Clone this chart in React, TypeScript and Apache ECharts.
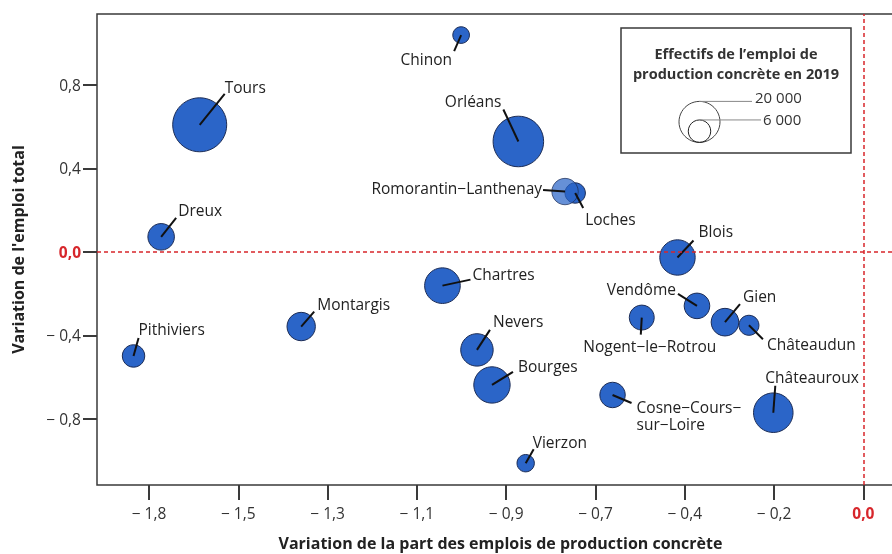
import React, { useEffect, useRef } from "react";
import * as echarts from "echarts";

// ---- data ----
const cities = [
  "Tours", "Dreux", "Chinon", "Orléans", "Loches", "Romorantin−Lanthenay",
  "Blois", "Vendôme", "Nogent−le−Rotrou", "Gien", "Châteaudun", "Cosne−Cours−\nsur−Loire",
  "Châteauroux", "Chartres", "Montargis", "Pithiviers", "Nevers", "Bourges", "Vierzon",
];
const shareChange = [
  -1.635, -1.730, -0.991, -0.850, -0.710, -0.735,
  -0.458, -0.410, -0.546, -0.341, -0.282, -0.618,
  -0.222, -1.037, -1.385, -1.798, -0.952, -0.915, -0.832,
];
const employmentChange = [
  0.609, 0.072, 1.039, 0.529, 0.282, 0.289,
  -0.027, -0.259, -0.315, -0.337, -0.352, -0.686,
  -0.771, -0.162, -0.358, -0.499, -0.470, -0.638, -1.013,
];
const productionJobs2019 = [
  34700, 8400, 3300, 30400, 4950, 8300,
  14900, 7800, 7400, 9100, 4800, 7700,
  18600, 15100, 9600, 6000, 12500, 15700, 3600,
];
const xTickValues = [-1.76, -1.54, -1.32, -1.1, -0.88, -0.66, -0.44, -0.22, 0];
const xTickLabels = ["− 1,8", "− 1,5", "− 1,3", "− 1,1", "− 0,9", "− 0,7", "− 0,4", "− 0,2", "0,0"];
const yTickValues = [-0.8, -0.4, 0, 0.4, 0.8];
const yTickLabels = ["− 0,8", "− 0,4", "0,0", "0,4", "0,8"];
const legendValues = [20000, 6000];
const legendLabels = ["20 000", "6 000"];

// ---- label layout (pixel offsets from bubble centre) ----
type L = { lx: number; ly: number; tx: number; ty: number; align: string };
const labelLayout: L[] = [
  { lx: 25, ly: -31, tx: 25, ty: -38, align: "left" }, // Tours
  { lx: 15, ly: -19, tx: 17, ty: -27, align: "left" }, // Dreux
  { lx: -7, ly: 16, tx: -9, ty: 24, align: "right" }, // Chinon
  { lx: -15, ly: -32, tx: -17, ty: -40, align: "right" }, // Orléans
  { lx: 8, ly: 15, tx: 10, ty: 26, align: "left" }, // Loches
  { lx: -22, ly: -1.5, tx: -23, ty: -4, align: "right" }, // Romorantin
  { lx: 16, ly: -17, tx: 21, ty: -26, align: "left" }, // Blois
  { lx: -19, ly: -12, tx: -21, ty: -17, align: "right" }, // Vendôme
  { lx: -1, ly: 17, tx: 8, ty: 28, align: "center" }, // Nogent
  { lx: 15, ly: -18, tx: 18, ty: -26, align: "left" }, // Gien
  { lx: 14, ly: 14, tx: 18, ty: 19, align: "left" }, // Châteaudun
  { lx: 19, ly: 8, tx: 24, ty: 21, align: "left" }, // Cosne
  { lx: 2, ly: -27, tx: -8, ty: -36, align: "left" }, // Châteauroux
  { lx: 28, ly: -6, tx: 30, ty: -12, align: "left" }, // Chartres
  { lx: 13, ly: -15, tx: 16, ty: -23, align: "left" }, // Montargis
  { lx: 5, ly: -18, tx: 5, ty: -27, align: "left" }, // Pithiviers
  { lx: 13, ly: -20, tx: 16, ty: -29, align: "left" }, // Nevers
  { lx: 21, ly: -13, tx: 26, ty: -19, align: "left" }, // Bourges
  { lx: 8, ly: -14, tx: 7, ty: -21, align: "left" }, // Vierzon
];
const bubbleOpacity = (name: string) => (name.startsWith("Romorantin") ? 0.72 : 1);

const FONT = "'Open Sans', 'Noto Sans', sans-serif";
const RED = "#d7262b";
const FILL = "#2b65c8";
const STROKE = "#1c2c55";
const K = 20.5 / Math.sqrt(20000);
const radius = (v: number) => K * Math.sqrt(v);

export default function App() {
  const ref = useRef<HTMLDivElement>(null);
  useEffect(() => {
    if (!ref.current) return;
    const chart = echarts.init(ref.current, undefined, { renderer: "svg" });
    const data = cities.map((c, i) => [shareChange[i], employmentChange[i], productionJobs2019[i], i]);
    const fmt = (vals: number[], labels: string[]) => (v: number) => {
      const i = vals.findIndex((t) => Math.abs(t - v) < 1e-6);
      if (i < 0) return "";
      const s = labels[i];
      return s === "0,0" ? "{red|0,0}" : s;
    };
    const bigR = radius(legendValues[0]);
    const smallR = radius(legendValues[1]);
    const cx = 699.5;
    const bottom = 142.4;
    chart.setOption({
      animation: false,
      textStyle: { fontFamily: FONT },
      grid: {
        left: 97, top: 14, width: 807, height: 471,
        outerBoundsMode: "none", containLabel: false,
        show: true, borderColor: "#3a3a3a", borderWidth: 1.5, backgroundColor: "transparent",
      },
      xAxis: {
        type: "value",
        min: -1.888,
        max: 0.1,
        name: "Variation de la part des emplois de production concrète",
        nameLocation: "middle",
        nameGap: 50,
        nameTextStyle: { fontSize: 16, fontWeight: "bold", color: "#222", fontFamily: FONT },
        axisLine: { show: false, onZero: false },
        splitLine: { show: false },
        axisTick: { show: true, length: 15, customValues: xTickValues, lineStyle: { color: "#3a3a3a", width: 2 } },
        axisLabel: {
          customValues: xTickValues,
          formatter: fmt(xTickValues, xTickLabels),
          margin: 20,
          fontSize: 15.5,
          color: "#333",
          fontFamily: FONT,
          rich: { red: { color: RED, fontWeight: "bold", fontSize: 15.5, fontFamily: FONT } },
        },
      },
      yAxis: {
        type: "value",
        min: -1.1175,
        max: 1.14,
        name: "Variation de l'emploi total",
        nameLocation: "middle",
        nameGap: 71,
        nameTextStyle: { fontSize: 16, fontWeight: "bold", color: "#222", fontFamily: FONT },
        axisLine: { show: false, onZero: false },
        splitLine: { show: false },
        axisTick: { show: true, length: 14, customValues: yTickValues, lineStyle: { color: "#3a3a3a", width: 2 } },
        axisLabel: {
          customValues: yTickValues,
          formatter: fmt(yTickValues, yTickLabels),
          margin: 16,
          fontSize: 15.5,
          color: "#333",
          fontFamily: FONT,
          rich: { red: { color: RED, fontWeight: "bold", fontSize: 15.5, fontFamily: FONT } },
        },
      },
      series: [
        {
          type: "scatter",
          data: [],
          z: 1,
          markLine: {
            silent: true,
            symbol: "none",
            label: { show: false },
            lineStyle: { color: RED, type: [4, 3], width: 1.5 },
            data: [{ xAxis: 0 }, { yAxis: 0 }],
          },
        },
        {
          type: "custom",
          z: 2,
          data,
          renderItem: (params: any, api: any) => {
            const i = api.value(3);
            const c = api.coord([api.value(0), api.value(1)]);
            return {
              type: "circle",
              shape: { cx: c[0], cy: c[1], r: radius(api.value(2)) },
              style: { fill: FILL, stroke: STROKE, lineWidth: 1, opacity: bubbleOpacity(cities[i]) },
            };
          },
        },
        {
          type: "custom",
          z: 3,
          data,
          renderItem: (params: any, api: any) => {
            const i = api.value(3);
            const c = api.coord([api.value(0), api.value(1)]);
            const L = labelLayout[i];
            return {
              type: "group",
              children: [
                {
                  type: "line",
                  shape: { x1: c[0], y1: c[1], x2: c[0] + L.lx, y2: c[1] + L.ly },
                  style: { stroke: "#111", lineWidth: 2 },
                },
                {
                  type: "text",
                  x: c[0] + L.tx,
                  y: c[1] + L.ty,
                  style: {
                    text: cities[i],
                    fill: "#222",
                    font: `15.5px ${FONT}`,
                    textAlign: L.align,
                    textVerticalAlign: "middle",
                    lineHeight: 17,
                  },
                },
              ],
            };
          },
        },
      ],
      graphic: [
        { type: "rect", shape: { x: 621, y: 28, width: 230, height: 125 }, style: { fill: "#fff", stroke: "#3a3a3a", lineWidth: 1.5 }, z: 10 },
        { type: "text", x: 736, y: 53, style: { text: "Effectifs de l’emploi de", font: `bold 14.5px ${FONT}`, fill: "#333", textAlign: "center", textVerticalAlign: "middle" }, z: 11 },
        { type: "text", x: 736, y: 73, style: { text: "production concrète en 2019", font: `bold 14.5px ${FONT}`, fill: "#333", textAlign: "center", textVerticalAlign: "middle" }, z: 11 },
        { type: "circle", shape: { cx, cy: bottom - bigR, r: bigR }, style: { fill: "none", stroke: "#444", lineWidth: 1 }, z: 11 },
        { type: "circle", shape: { cx, cy: bottom - smallR, r: smallR }, style: { fill: "none", stroke: "#222", lineWidth: 1 }, z: 11 },
        { type: "line", shape: { x1: cx, y1: bottom - 2 * bigR, x2: 752, y2: bottom - 2 * bigR }, style: { stroke: "#888", lineWidth: 1 }, z: 11 },
        { type: "line", shape: { x1: cx, y1: bottom - 2 * smallR, x2: 761, y2: bottom - 2 * smallR }, style: { stroke: "#888", lineWidth: 1 }, z: 11 },
        { type: "text", x: 755, y: 97, style: { text: legendLabels[0], font: `15px ${FONT}`, fill: "#333", textAlign: "left", textVerticalAlign: "middle" }, z: 11 },
        { type: "text", x: 763, y: 119, style: { text: legendLabels[1], font: `15px ${FONT}`, fill: "#333", textAlign: "left", textVerticalAlign: "middle" }, z: 11 },
      ],
    });
    return () => chart.dispose();
  }, []);
  return <div ref={ref} style={{ position: "fixed", left: 0, top: 0, width: 920, height: 554 }} />;
}
